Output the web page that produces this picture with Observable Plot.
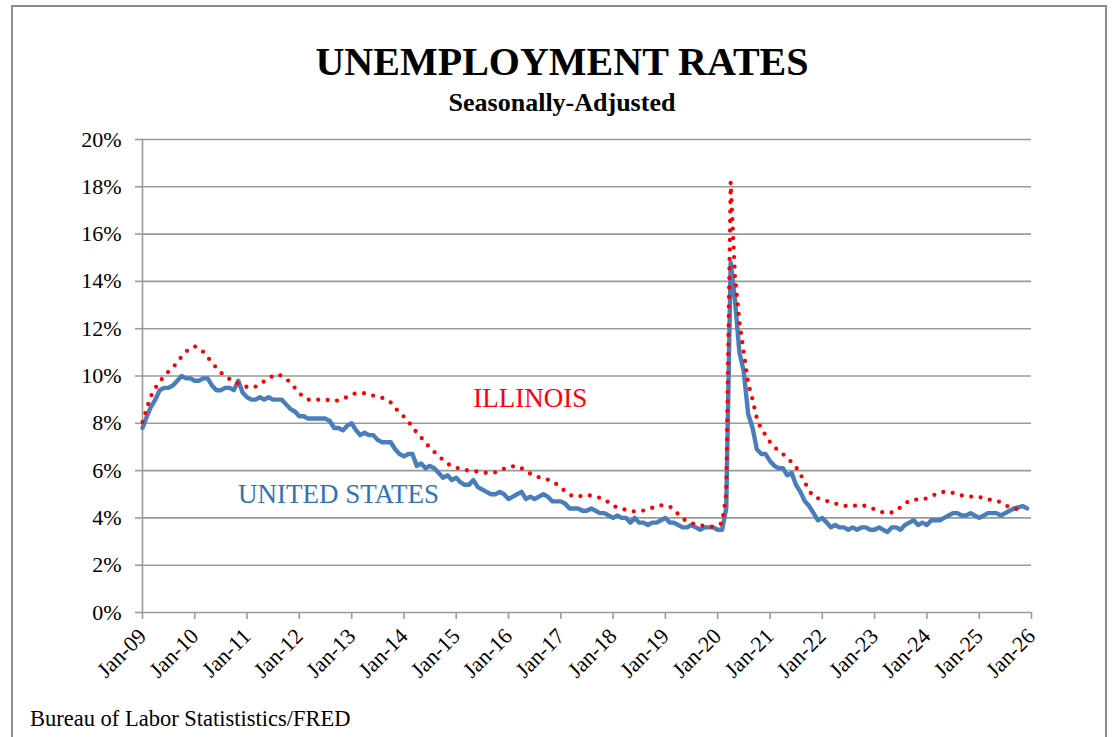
<!DOCTYPE html>
<html>
<head>
<meta charset="utf-8">
<script src="https://cdn.jsdelivr.net/npm/d3@7"></script>
<script src="https://cdn.jsdelivr.net/npm/@observablehq/plot@0.6"></script>
<style>
  html, body { margin: 0; padding: 0; background: #fff; }
  #wrap { position: relative; width: 1112px; height: 737px; overflow: hidden; font-family: "Liberation Serif", "Times New Roman", serif; }
  #frame { position: absolute; left: 11px; top: 5px; width: 1096px; height: 760px; border: 2px solid #8c8c8c; box-sizing: border-box; }
  .title { position: absolute; left: 0; width: 1124px; text-align: center; font-weight: bold; color: #000; }
  #t1 { top: 38px; font-size: 40px; }
  #t2 { top: 88px; font-size: 26px; }
  #src { position: absolute; left: 30px; top: 706px; font-size: 22.5px; color: #000; }
  #chart { position: absolute; left: 0; top: 0; }
  #chart svg text { font-family: "Liberation Serif", "Times New Roman", serif; }
</style>
</head>
<body>
<div id="wrap">
  <div id="frame"></div>
  <div class="title" id="t1">UNEMPLOYMENT RATES</div>
  <div class="title" id="t2">Seasonally-Adjusted</div>
  <div id="chart"></div>
  <div id="src">Bureau of Labor Statististics/FRED</div>
</div>
<script>
// Monthly unemployment rates (%), January 2009 through December 2025
const usRate = [
  7.8, 8.3, 8.7, 9.0, 9.4, 9.5, 9.5, 9.6, 9.8, 10.0, 9.9, 9.9,
  9.8, 9.8, 9.9, 9.9, 9.6, 9.4, 9.4, 9.5, 9.5, 9.4, 9.8, 9.3,
  9.1, 9.0, 9.0, 9.1, 9.0, 9.1, 9.0, 9.0, 9.0, 8.8, 8.6, 8.5,
  8.3, 8.3, 8.2, 8.2, 8.2, 8.2, 8.2, 8.1, 7.8, 7.8, 7.7, 7.9,
  8.0, 7.7, 7.5, 7.6, 7.5, 7.5, 7.3, 7.2, 7.2, 7.2, 6.9, 6.7,
  6.6, 6.7, 6.7, 6.2, 6.3, 6.1, 6.2, 6.1, 5.9, 5.7, 5.8, 5.6,
  5.7, 5.5, 5.4, 5.4, 5.6, 5.3, 5.2, 5.1, 5.0, 5.0, 5.1, 5.0,
  4.8, 4.9, 5.0, 5.1, 4.8, 4.9, 4.8, 4.9, 5.0, 4.9, 4.7, 4.7,
  4.7, 4.6, 4.4, 4.4, 4.4, 4.3, 4.3, 4.4, 4.3, 4.2, 4.2, 4.1,
  4.0, 4.1, 4.0, 4.0, 3.8, 4.0, 3.8, 3.8, 3.7, 3.8, 3.8, 3.9,
  4.0, 3.8, 3.8, 3.7, 3.6, 3.6, 3.7, 3.6, 3.5, 3.6, 3.6, 3.6,
  3.5, 3.5, 4.4, 14.8, 13.2, 11.0, 10.2, 8.4, 7.8, 6.9, 6.7, 6.7,
  6.4, 6.2, 6.1, 6.1, 5.8, 5.9, 5.4, 5.1, 4.7, 4.5, 4.2, 3.9,
  4.0, 3.8, 3.6, 3.7, 3.6, 3.6, 3.5, 3.6, 3.5, 3.6, 3.6, 3.5,
  3.5, 3.6, 3.5, 3.4, 3.6, 3.6, 3.5, 3.7, 3.8, 3.9, 3.7, 3.8,
  3.7, 3.9, 3.9, 3.9, 4.0, 4.1, 4.2, 4.2, 4.1, 4.1, 4.2, 4.1,
  4.0, 4.1, 4.2, 4.2, 4.2, 4.1, 4.2, 4.3, 4.4, null, 4.5, 4.4
];

// Illinois, January 2009 through November 2025
const ilRate = [
  8.05, 8.65, 9.15, 9.5, 9.75, 10.0, 10.18, 10.36, 10.58, 10.82, 11.03, 11.18,
  11.25, 11.18, 11.02, 10.8, 10.56, 10.35, 10.15, 10.0, 9.87, 9.78, 9.68, 9.58,
  9.54, 9.5, 9.55, 9.63, 9.78, 9.9, 10.0, 10.08, 10.0, 9.9, 9.7, 9.5,
  9.28, 9.1, 9.0, 9.0, 9.0, 9.0, 9.0, 8.97, 8.93, 8.98, 9.03, 9.12,
  9.22, 9.27, 9.29, 9.27, 9.22, 9.17, 9.12, 9.08, 9.0, 8.88, 8.65, 8.45,
  8.28, 8.08, 7.85, 7.6, 7.4, 7.18, 6.96, 6.79, 6.62, 6.45, 6.3, 6.18,
  6.12, 6.08, 6.03, 6.0, 5.98, 5.96, 5.95, 5.9, 5.9, 5.93, 5.98, 6.08,
  6.15, 6.18, 6.19, 6.1, 5.99, 5.87, 5.76, 5.72, 5.68, 5.62, 5.56, 5.43,
  5.28, 5.12, 4.98, 4.92, 4.9, 4.94, 4.97, 4.94, 4.9, 4.85, 4.78, 4.65,
  4.5, 4.45, 4.4, 4.33, 4.28, 4.28, 4.28, 4.31, 4.36, 4.43, 4.5, 4.53,
  4.53, 4.48, 4.36, 4.15, 3.97, 3.86, 3.78, 3.73, 3.69, 3.65, 3.62, 3.63,
  3.68, 3.78, 5.0, 18.2, 14.2, 12.3, 11.0, 9.7, 9.0, 8.2, 7.75, 7.5,
  7.2, 7.0, 6.82, 6.7, 6.55, 6.35, 6.15, 5.85, 5.5, 5.15, 4.9, 4.83,
  4.78, 4.72, 4.66, 4.61, 4.56, 4.52, 4.48, 4.5, 4.53, 4.54, 4.5, 4.44,
  4.36, 4.28, 4.23, 4.2, 4.23, 4.3, 4.45, 4.6, 4.72, 4.77, 4.78, 4.79,
  4.83, 4.91, 5.0, 5.08, 5.1, 5.1, 5.06, 5.0, 4.95, 4.91, 4.9, 4.9,
  4.89, 4.82, 4.78, 4.76, 4.74, 4.65, 4.55, 4.45, 4.38, 4.38, 4.38
];

const startYear = 2009;
const tickYears = d3.range(2009, 2027);          // Jan-09 … Jan-26
const yTicks = [0, 2, 4, 6, 8, 10, 12, 14, 16, 18, 20];
const seriesLabels = [
  {name: "ILLINOIS", year: 2016, month: 5, value: 9.05, color: "#ff0000"},
  {name: "UNITED STATES", year: 2012, month: 9, value: 5.0, color: "#2f74b5"}
];

const serif = '"Liberation Serif", "Times New Roman", serif';
const monthDate = (i) => new Date(Date.UTC(startYear, i, 1));
const toRows = (arr) => arr.map((v, i) => ({date: monthDate(i), value: v})).filter(d => d.value != null);
const us = toRows(usRate);
const il = toRows(ilRate);
const xTicks = tickYears.map(y => new Date(Date.UTC(y, 0, 1)));
const labels = seriesLabels.map(d => ({...d, date: new Date(Date.UTC(d.year, d.month, 1))}));

const grid = "#9a9a9a";

const chart = Plot.plot({
  width: 1112,
  height: 737,
  marginLeft: 142,
  marginRight: 81,
  marginTop: 139,
  marginBottom: 125,
  style: {fontFamily: serif, fontSize: "22px", color: "#000", background: "transparent", overflow: "visible"},
  x: {type: "utc", domain: [xTicks[0], xTicks[xTicks.length - 1]]},
  y: {domain: [0, 20]},
  marks: [
    Plot.ruleY(yTicks, {stroke: grid, strokeWidth: 1.6}),
    Plot.ruleX([xTicks[0]], {y1: 0, y2: 20, stroke: grid, strokeWidth: 1.6}),
    Plot.axisY(yTicks, {
      tickFormat: d => d + "%", tickSize: 7, tickPadding: 14,
      stroke: grid, strokeWidth: 1.6, fill: "#000", fontSize: 22, fontFamily: serif, label: null
    }),
    Plot.axisX(xTicks, {
      tickFormat: d => "Jan-" + String(d.getUTCFullYear()).slice(2),
      tickSize: 7, tickPadding: 13, tickRotate: -45,
      stroke: grid, strokeWidth: 1.6, fill: "#000", fontSize: 22, fontFamily: serif, label: null
    }),
    Plot.line(us, {x: "date", y: "value", stroke: "#4a7ebb", strokeWidth: 4.4, strokeLinejoin: "round"}),
    Plot.line(il, {x: "date", y: "value", stroke: "#ff0000", strokeWidth: 4.3, strokeLinecap: "round", strokeDasharray: "0 9.5"}),
    Plot.text(labels, {x: "date", y: "value", text: "name", fill: "color", fontSize: 27, fontFamily: serif, textAnchor: "middle"})
  ]
});
document.getElementById("chart").appendChild(chart);
</script>
</body>
</html>
